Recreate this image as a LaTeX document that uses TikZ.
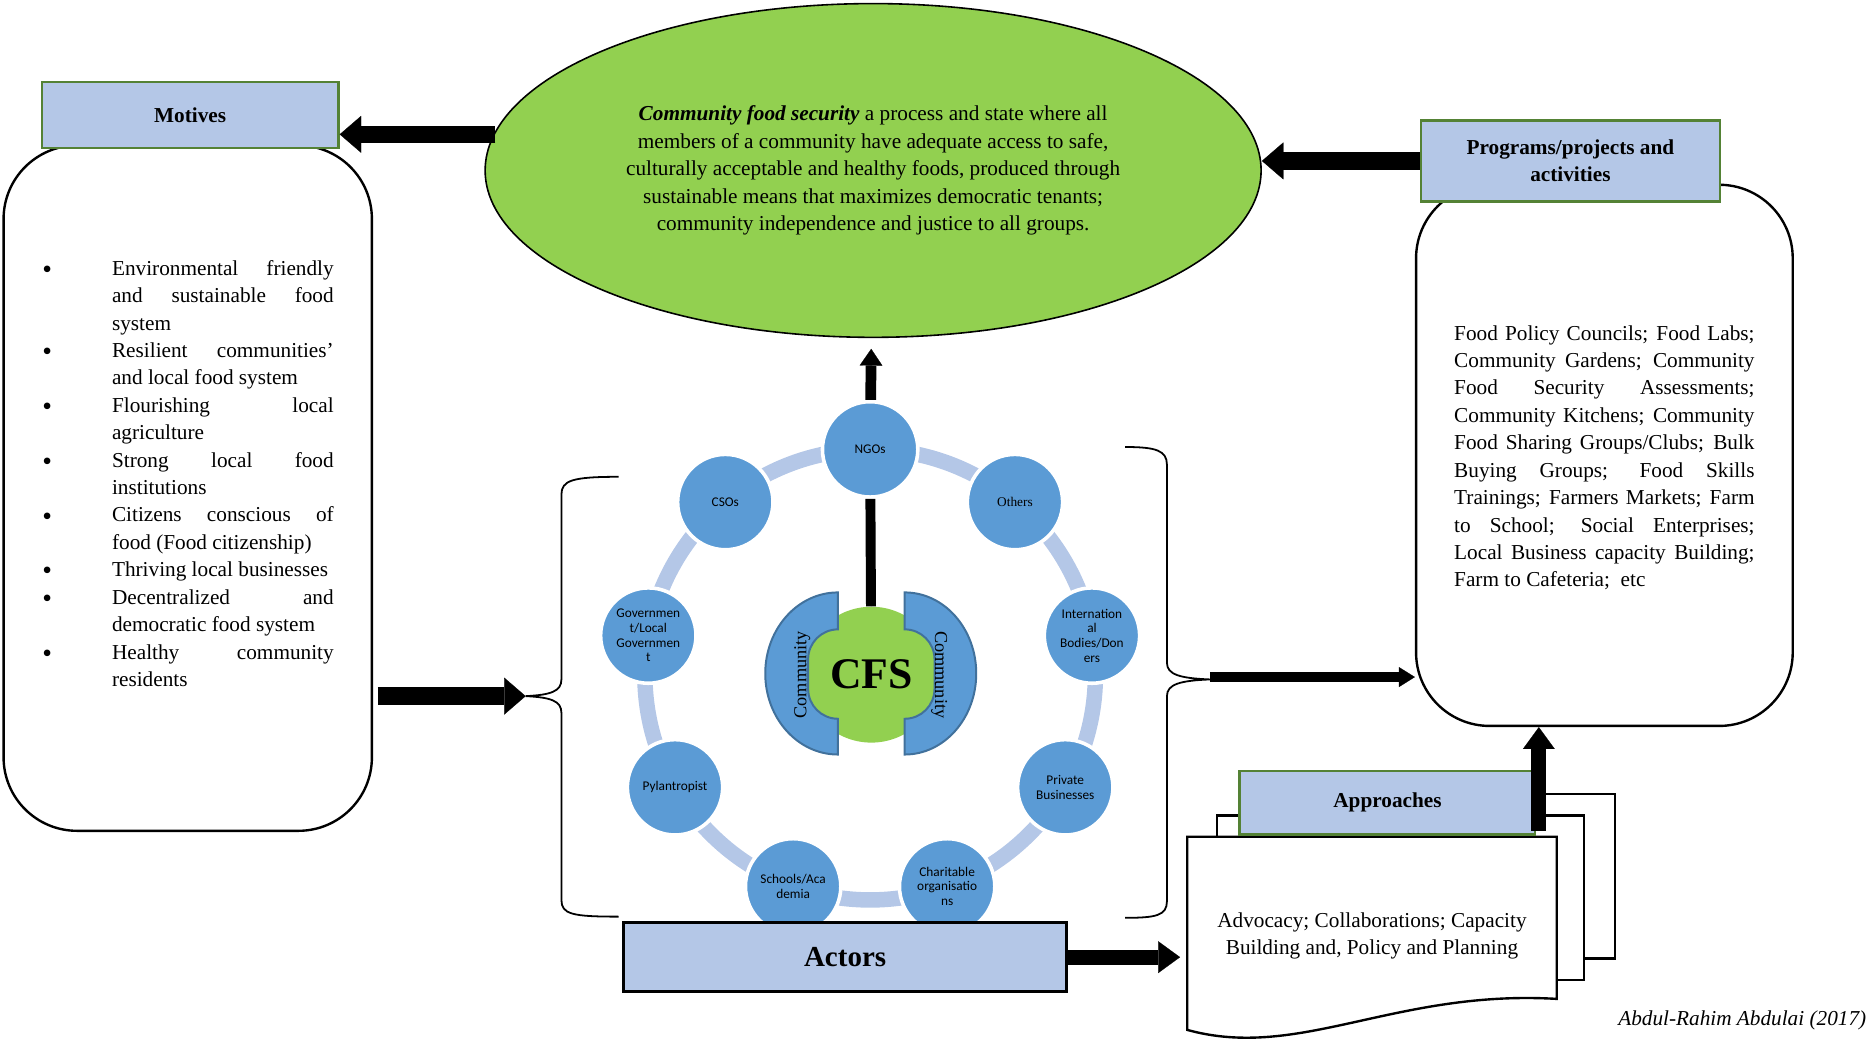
\documentclass[tikz,border=0pt]{standalone}
\usepackage{fontspec}
\setmainfont{Liberation Serif}
\newfontfamily\actorfont{Carlito}
\usepackage{enumitem}
\usetikzlibrary{shapes.geometric,arrows.meta}

\definecolor{hdrblue}{HTML}{B4C7E7}
\definecolor{hdrgreen}{HTML}{548235}
\definecolor{cfsgreen}{HTML}{92D050}
\definecolor{actorblue}{HTML}{5B9BD5}
\definecolor{commblue}{HTML}{41719C}

\newcommand{\bodysize}{\fontsize{10.7}{13.8}\selectfont}
\newcommand{\actorsize}{\actorfont\fontsize{6.7}{7.4}\selectfont}
\newcommand{\commsize}{\fontsize{9.2}{11}\selectfont}

\begin{document}
\begin{tikzpicture}[x=0.6pt, y=-0.6pt,
    header/.style={rectangle, draw=hdrgreen, line width=1.2pt, fill=hdrblue, font=\bodysize\bfseries, align=center, inner sep=0pt},
    roundbox/.style={rectangle, draw, line width=1.2pt, rounded corners=37pt, fill=white},
    bodytext/.style={font=\bodysize, align=justify, inner sep=0pt, execute at begin node={\sloppy\hyphenpenalty=10000}},
    actor/.style={circle, fill=actorblue, draw=white, line width=1.8pt, minimum size=48pt, inner sep=0pt, font=\actorsize, align=center},
    commshape/.style={fill=actorblue, draw=commblue, line width=1pt},
    doc/.style={draw, fill=white, line width=1.2pt},
    brace/.style={draw, line width=0.9pt},
    fatarrow/.style={line width=8.7pt, -{Triangle[length=10.8pt, width=18.6pt, line width=0.1pt]}},
    midarrow/.style={line width=7.5pt, -{Triangle[length=11pt, width=16pt, line width=0.1pt]}},
    thinarrow/.style={line width=4.8pt, -{Triangle[length=8pt, width=10pt, line width=0.1pt]}},
    uparrow/.style={line width=5.4pt, -{Triangle[length=8.4pt, width=11.4pt, line width=0.1pt]}}]
    \useasboundingbox (0,0) rectangle (1568,874);

    % Motives
    \node[roundbox, minimum width=185.4pt, minimum height=345pt] (motivebox) at (157.5,409.5) {};
    \node[header, minimum width=149.4pt, minimum height=33pt] (motives) at (159.5,96.5) {Motives};
    \node[bodytext, text width=146.7pt] (motivelist) at (157.75,392) {%
        \begin{itemize}[nosep, label=\raisebox{-1.6pt}{\scalebox{1.3}{\textbullet}}, leftmargin=35.1pt, labelindent=0pt, labelwidth=35.1pt, labelsep=0pt, align=left]
        \item Environmental friendly\linebreak and sustainable food\linebreak system
        \item Resilient communities'\linebreak and local food system
        \item Flourishing local\linebreak agriculture
        \item Strong local food\linebreak institutions
        \item Citizens conscious of\linebreak food (Food citizenship)
        \item Thriving local businesses
        \item Decentralized and\linebreak democratic food system
        \item Healthy community\linebreak residents
        \end{itemize}};

    % Definition
    \node[ellipse, draw, line width=0.8pt, fill=cfsgreen, minimum width=390.6pt, minimum height=168pt, align=center, font=\bodysize, inner sep=0pt] (cfsdef) at (732.5,143) {%
        \textbf{\textit{Community food security}} a process and state where all\\
        members of a community have adequate access to safe,\\
        culturally acceptable and healthy foods, produced through\\
        sustainable means that maximizes democratic tenants;\\
        community independence and justice to all groups.};

    % Programs
    \node[roundbox, minimum width=189.6pt, minimum height=272.4pt] (progbox) at (1346,382) {};
    \node[header, minimum width=150.6pt, minimum height=40.8pt] (programs) at (1317.5,135) {Programs/projects and\\activities};
    \node[bodytext, text width=151.2pt] (progtext) at (1346,384) {%
        Food Policy Councils; Food Labs;\linebreak Community Gardens; Community\linebreak
        Food Security Assessments;\linebreak Community Kitchens; Community\linebreak
        Food Sharing Groups/Clubs; Bulk\linebreak Buying Groups; Food Skills\linebreak
        Trainings; Farmers Markets; Farm\linebreak to School; Social Enterprises;\linebreak
        Local Business capacity Building;\linebreak Farm to Cafeteria;~ etc};

    % Ring of actors
    \draw[hdrblue, line width=7.8pt] (730,566) circle[radius=189];
    \node[actor] (ngos) at (730,377) {NGOs};
    \node[actor] (csos) at (608.5,421.2) {CSOs};
    \node[actor, font=\fontsize{6.7}{7.4}\selectfont] (others) at (851.5,421.2) {Others};
    \node[actor] (govt) at (543.9,533.2) {Governmen\\t/Local\\Governmen\\t};
    \node[actor] (intl) at (916.1,533.2) {Internation\\al\\Bodies/Don\\ers};
    \node[actor] (phil) at (566.3,660.5) {Pylantropist};
    \node[actor] (private) at (893.7,660.5) {Private\\Businesses};
    \node[actor] (schools) at (665.4,743.6) {Schools/Aca\\demia};
    \node[actor] (charity) at (794.6,743.6) {Charitable\\organisatio\\ns};

    % CFS core
    \fill[cfsgreen, rounded corners=15pt] (678,528) rectangle (784,603);
    \node[circle, fill=cfsgreen, minimum size=68.4pt, inner sep=0pt, font=\fontsize{22}{24}\selectfont\bfseries] (cfs) at (731,566) {CFS};
    \draw[commshape] (703,633) arc[start angle=90, end angle=270, x radius=61, y radius=68] -- (703,528)
        arc[start angle=270, end angle=180, radius=25] -- (678,578) arc[start angle=180, end angle=90, radius=25] -- cycle;
    \draw[commshape] (759,497) arc[start angle=-90, end angle=90, x radius=60, y radius=68] -- (759,603)
        arc[start angle=90, end angle=0, radius=25] -- (784,553) arc[start angle=0, end angle=-90, radius=25] -- cycle;
    \node[rotate=90, font=\commsize] (commleft) at (673,566) {Community};
    \node[rotate=-90, font=\commsize] (commright) at (788,566) {Community};

    % Connections of the core
    \draw[line width=5pt] (ngos) -- (cfs);
    \draw[uparrow, shorten >=5.4pt] (ngos) -- (cfsdef);

    % Brackets
    \draw[brace] (519,400) .. controls (480,400) and (471,403) .. (471,415) -- (471,570)
        .. controls (471,580) and (462,583) .. (441,584) .. controls (462,585) and (471,588) .. (471,598)
        -- (471,755) .. controls (471,767) and (480,769) .. (519,769);
    \coordinate (lbrace) at (441,584);
    \draw[brace] (944,375) .. controls (970,375) and (979,378) .. (979,390) -- (979,556)
        .. controls (979,566) and (990,569) .. (1015,570) .. controls (990,571) and (979,574) .. (979,584)
        -- (979,756) .. controls (979,768) and (970,770) .. (944,770);
    \coordinate (rbrace) at (1015,568);

    % Actors
    \node[draw, line width=1.5pt, fill=hdrblue, minimum width=223.2pt, minimum height=34.8pt, font=\fontsize{14.6}{17}\selectfont\bfseries] (actors) at (709,803) {Actors};

    % Approaches
    \draw[doc] (1046,666) rectangle (1355,804);
    \draw[doc] (1021,684) rectangle (1329,822);
    \draw[doc] (996,702) -- (1306,702) -- (1306,838) .. controls (1170,830) and (1090,890) .. (996,864) -- cycle;
    \node[header, minimum width=148.8pt, minimum height=31.8pt] (approaches) at (1164,673.5) {Approaches};
    \node[font=\bodysize, align=center] (apptext) at (1151,785) {Advocacy; Collaborations; Capacity\\Building and, Policy and Planning};
    \coordinate (appdoc) at (990,805);

    % Credit
    \node[anchor=east, font=\bodysize\itshape, inner sep=0pt] (credit) at (1566,856) {Abdul-Rahim Abdulai (2017)};

    % Connections
    \draw[fatarrow] ([yshift=-1.8pt]cfsdef.174) -- ([yshift=-1.8pt]cfsdef.174 -| motives.east);
    \draw[fatarrow] (programs.west) -- (programs.west -| cfsdef.east);
    \draw[fatarrow, shorten <=2.4pt] (motivebox.east |- lbrace) -- (lbrace);
    \draw[thinarrow] (rbrace) -- (rbrace -| progbox.west);
    \draw[midarrow] (actors.east) -- (actors.east -| appdoc);
    \draw[midarrow] ([xshift=1.2pt, yshift=2.4pt]approaches.south east) -- ([xshift=1.2pt]approaches.south east |- progbox.south);
\end{tikzpicture}
\end{document}
